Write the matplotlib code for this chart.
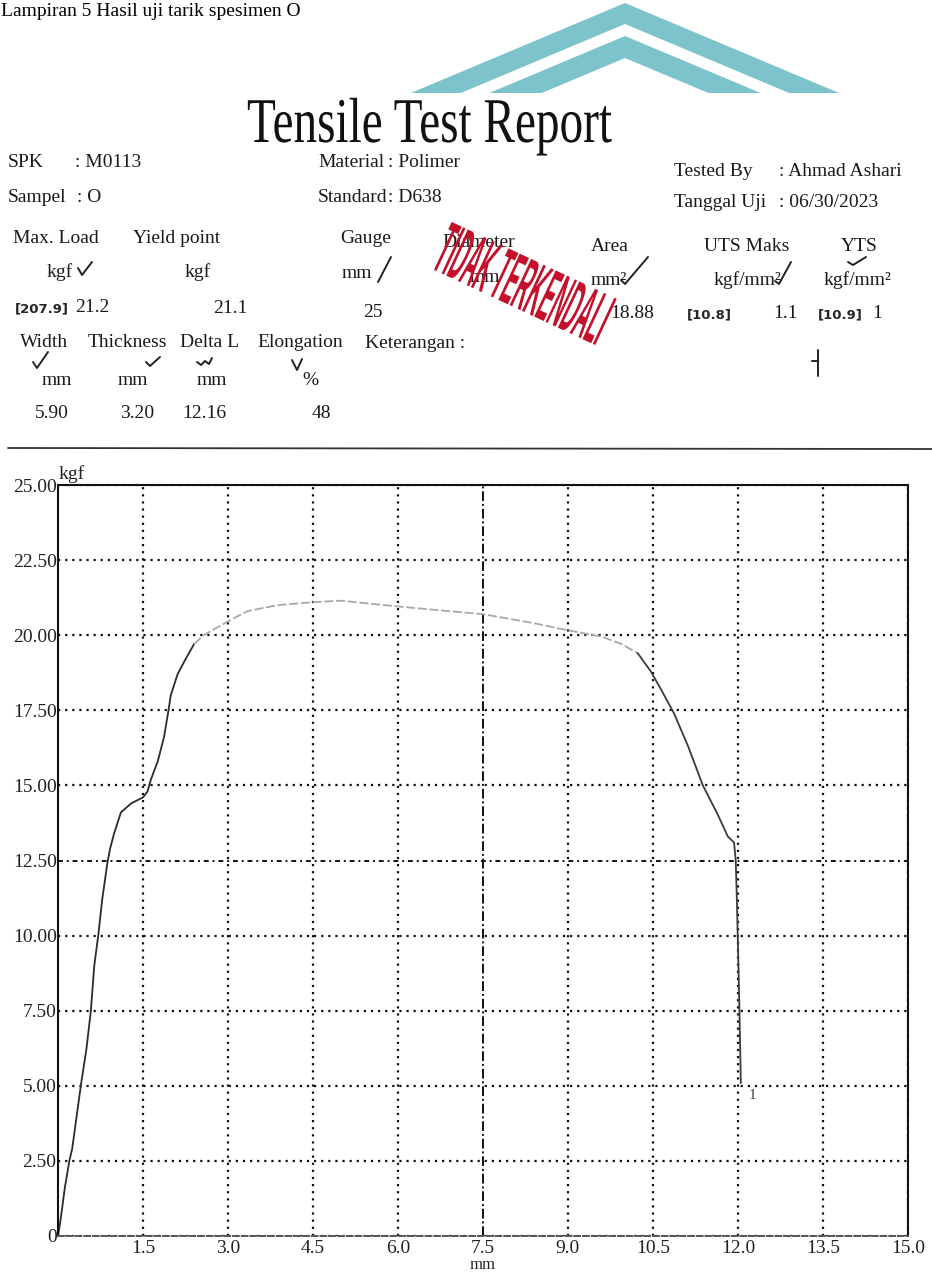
import matplotlib.pyplot as plt
from matplotlib.lines import Line2D
from matplotlib.patches import Polygon, Rectangle
from matplotlib.transforms import Affine2D
from matplotlib import patheffects

W, H = 932, 1286
SERIF = 'Liberation Serif'

# load vs crosshead displacement
displacement_mm = [0.0, 0.05, 0.12, 0.20, 0.25, 0.33, 0.41, 0.50, 0.58, 0.64, 0.71,
                   0.78, 0.87, 0.92, 0.99, 1.11, 1.29, 1.50, 1.58, 1.64, 1.76, 1.87,
                   1.95, 1.99, 2.11, 2.25, 2.40,
                   2.57, 2.99, 3.34, 3.87, 4.50, 5.00, 5.50, 6.04, 6.90, 7.50, 8.40,
                   8.90, 9.60, 9.95, 10.23,
                   10.46, 10.64, 10.87, 11.12, 11.38, 11.65, 11.82, 11.93, 11.96,
                   11.98, 12.02, 12.05]
load_kgf = [0.0, 0.6, 1.6, 2.5, 2.9, 4.0, 5.1, 6.2, 7.5, 9.0, 10.0,
            11.2, 12.4, 12.9, 13.4, 14.1, 14.4, 14.6, 14.8, 15.2, 15.8, 16.6,
            17.5, 18.0, 18.7, 19.2, 19.7,
            20.0, 20.45, 20.8, 21.0, 21.1, 21.15, 21.05, 20.95, 20.8, 20.7, 20.4,
            20.2, 19.95, 19.7, 19.4,
            18.8, 18.2, 17.4, 16.3, 15.0, 14.0, 13.3, 13.1, 12.5,
            11.2, 8.0, 5.1]
RISE_END = 26      # last point of the dark loading part
FALL_START = 41    # first point of the dark unloading part

x_ticks = [1.5, 3.0, 4.5, 6.0, 7.5, 9.0, 10.5, 12.0, 13.5, 15.0]
x_tick_labels = ['1.5', '3.0', '4.5', '6.0', '7.5', '9.0', '10.5', '12.0', '13.5', '15.0']
y_ticks = [0, 2.5, 5, 7.5, 10, 12.5, 15, 17.5, 20, 22.5, 25]
y_tick_labels = ['0', '2.50', '5.00', '7.50', '10.00', '12.50', '15.00', '17.50',
                 '20.00', '22.50', '25.00']

# report header
spk, sampel = 'M0113', 'O'
material, standard = 'Polimer', 'D638'
tested_by, tanggal = 'Ahmad Ashari', '06/30/2023'
max_load, yield_point, gauge = '21.2', '21.1', '25'
area, uts, yts = '18.88', '1.1', '1'
width, thickness, delta_l, elongation = '5.90', '3.20', '12.16', '48'
hand_notes = ['[207.9]', '[10.8]', '[10.9]']


class Stretch(patheffects.AbstractPathEffect):
    """Draw text glyphs scaled in their own frame (condensed / tall print)."""

    def __init__(self, sx=1.0, sy=1.0):
        super().__init__()
        self.sx, self.sy = sx, sy

    def draw_path(self, renderer, gc, tpath, affine, rgbFace=None):
        renderer.draw_path(gc, tpath, Affine2D().scale(self.sx, self.sy) + affine, rgbFace)


def fx(px):
    return px / W


def fy(py):
    return 1 - py / H


fig = plt.figure(figsize=(W / 100, H / 100), dpi=100)


def put(px, py, s, size=14, **kw):
    kw.setdefault('family', SERIF)
    kw.setdefault('color', '#1a1a1a')
    return fig.text(fx(px), fy(py), s, fontsize=size, ha='left', va='baseline', **kw)


def hand(px, py, s):
    return fig.text(fx(px), fy(py), s, fontsize=9.5, family='DejaVu Sans', weight='bold',
                    color='#262626', ha='left', va='baseline')


def stroke(pts, lw=1.4, color='#222222'):
    fig.add_artist(Line2D([fx(p[0]) for p in pts], [fy(p[1]) for p in pts],
                          transform=fig.transFigure, lw=lw, color=color,
                          solid_capstyle='round', solid_joinstyle='round', zorder=4))


# logo chevrons behind the scanned sheet
teal = '#7dc3cb'
cx, k = 625, 2.38
for top, bot in [(3, 24), (36, 58)]:
    pts = [(cx - (95 - top) * k, 95), (cx, top), (cx + (95 - top) * k, 95),
           (cx + (95 - bot) * k, 95), (cx, bot), (cx - (95 - bot) * k, 95)]
    fig.add_artist(Polygon([(fx(a), fy(b)) for a, b in pts], closed=True,
                           transform=fig.transFigure, color=teal, lw=0, zorder=-2))
fig.add_artist(Rectangle((0, 0), 1, fy(93), transform=fig.transFigure,
                         color='white', lw=0, zorder=-1))

put(1, 16, 'Lampiran 5 Hasil uji tarik spesimen O', 14, color='black')

put(247, 142, 'Tensile Test Report', 34, color='#111111', path_effects=[Stretch(1.0, 1.35)])

put(8, 167, 'SPK')
put(75, 167, ': ' + spk)
put(318, 167, 'Material')
put(388, 167, ': ' + material)
put(674, 176, 'Tested By')
put(779, 176, ': ' + tested_by)

put(8, 202, 'Sampel')
put(77, 202, ': ' + sampel)
put(318, 202, 'Standard')
put(388, 202, ': ' + standard)
put(674, 207, 'Tanggal Uji')
put(779, 207, ': ' + tanggal)

put(13, 243, 'Max. Load')
put(133, 243, 'Yield point')
put(340, 243, 'Gauge')
put(442, 247, 'Diameter')
put(591, 251, 'Area')
put(704, 251, 'UTS Maks')
put(841, 251, 'YTS')

put(47, 277, 'kgf')
put(185, 277, 'kgf')
put(342, 278, 'mm')
put(470, 282, 'mm')
put(591, 285, 'mm²')
put(714, 285, 'kgf/mm²')
put(824, 285, 'kgf/mm²')

hand(15, 312, hand_notes[0])
put(75, 312, max_load)
put(213, 313, yield_point)
put(363, 317, gauge)
put(610, 318, area)
hand(687, 318, hand_notes[1])
put(773, 318, uts)
hand(818, 318, hand_notes[2])
put(872, 318, yts)

put(20, 347, 'Width')
put(88, 347, 'Thickness')
put(180, 347, 'Delta L')
put(257, 347, 'Elongation')
put(365, 348, 'Keterangan :')

put(42, 385, 'mm')
put(118, 385, 'mm')
put(197, 385, 'mm')
put(302, 385, '%')

put(35, 418, width)
put(120, 418, thickness)
put(182, 418, delta_l)
put(312, 418, elongation)

# pen ticks on the sheet
stroke([(78, 268), (82, 275), (92, 262)])
stroke([(378, 282), (391, 257)])
stroke([(621, 280), (625, 284), (648, 257)])
stroke([(775, 281), (779, 284), (791, 262)])
stroke([(848, 262), (853, 265), (866, 257)])
stroke([(33, 362), (37, 368), (48, 352)])
stroke([(146, 362), (150, 366), (160, 357)])
stroke([(197, 362), (201, 365), (205, 361), (209, 364), (212, 358)])
stroke([(292, 360), (297, 370), (302, 359)])
stroke([(818, 350), (818, 376)])
stroke([(812, 361), (818, 361)])

# red rubber stamp
stamp = fig.text(fx(430), fy(268), 'TIDAK TERKENDALI', fontsize=26, weight='bold',
                 family='Liberation Sans', color='#c3112b', rotation=-25,
                 rotation_mode='anchor', ha='left', va='baseline', zorder=6,
                 path_effects=[Stretch(0.52, 2.05)])

# rule above the graph
stroke([(8, 448), (932, 449)], lw=1.3, color='#333333')

ax = fig.add_axes([fx(58), 1 - 1236 / H, (908 - 58) / W, (1236 - 485) / H])
dot = (0, (1, 2.2))
ax.grid(True, color='#111111', lw=1.6, ls=dot, dash_capstyle='butt')
ax.set_axisbelow(True)

ax.plot(displacement_mm[:RISE_END + 1], load_kgf[:RISE_END + 1], color='#2b2b2b', lw=1.3)
ax.plot(displacement_mm[RISE_END:FALL_START + 1], load_kgf[RISE_END:FALL_START + 1],
        color='#a8a8a8', lw=1.3, ls=(0, (5, 1.5)))
ax.plot(displacement_mm[FALL_START:], load_kgf[FALL_START:], color='#3a3a3a', lw=1.3)
ax.text(displacement_mm[-1] + 0.13, load_kgf[-1] - 0.55, '1', fontsize=11,
        family=SERIF, color='#444444')

ax.set_xlim(0, 15)
ax.set_ylim(0, 25)
ax.set_xticks(x_ticks)
ax.set_xticklabels(x_tick_labels, family=SERIF, fontsize=14, color='#222222')
ax.set_yticks(y_ticks)
ax.set_yticklabels(y_tick_labels, family=SERIF, fontsize=14, color='#222222')
ax.tick_params(length=0)
ax.tick_params(axis='x', pad=3)
ax.tick_params(axis='y', pad=1)

ax.get_xgridlines()[x_ticks.index(7.5)].set(ls=(0, (5, 1.5, 1, 1.5)), lw=1.4)
ax.get_ygridlines()[y_ticks.index(12.5)].set(ls=(0, (2.5, 2, 1, 2)), lw=1.4)

for side in ['left', 'top', 'right']:
    ax.spines[side].set(lw=1.5, color='#111111')
ax.spines['bottom'].set(lw=1.4, color='#555555', ls=(0, (3, 1.5)))

ax.set_xlabel('mm', family=SERIF, fontsize=12, labelpad=0, color='#222222')
fig.text(fx(59), fy(479), 'kgf', fontsize=14, family=SERIF, color='#222222',
         ha='left', va='baseline')

fig.savefig('out.png', dpi=100, facecolor='white')
